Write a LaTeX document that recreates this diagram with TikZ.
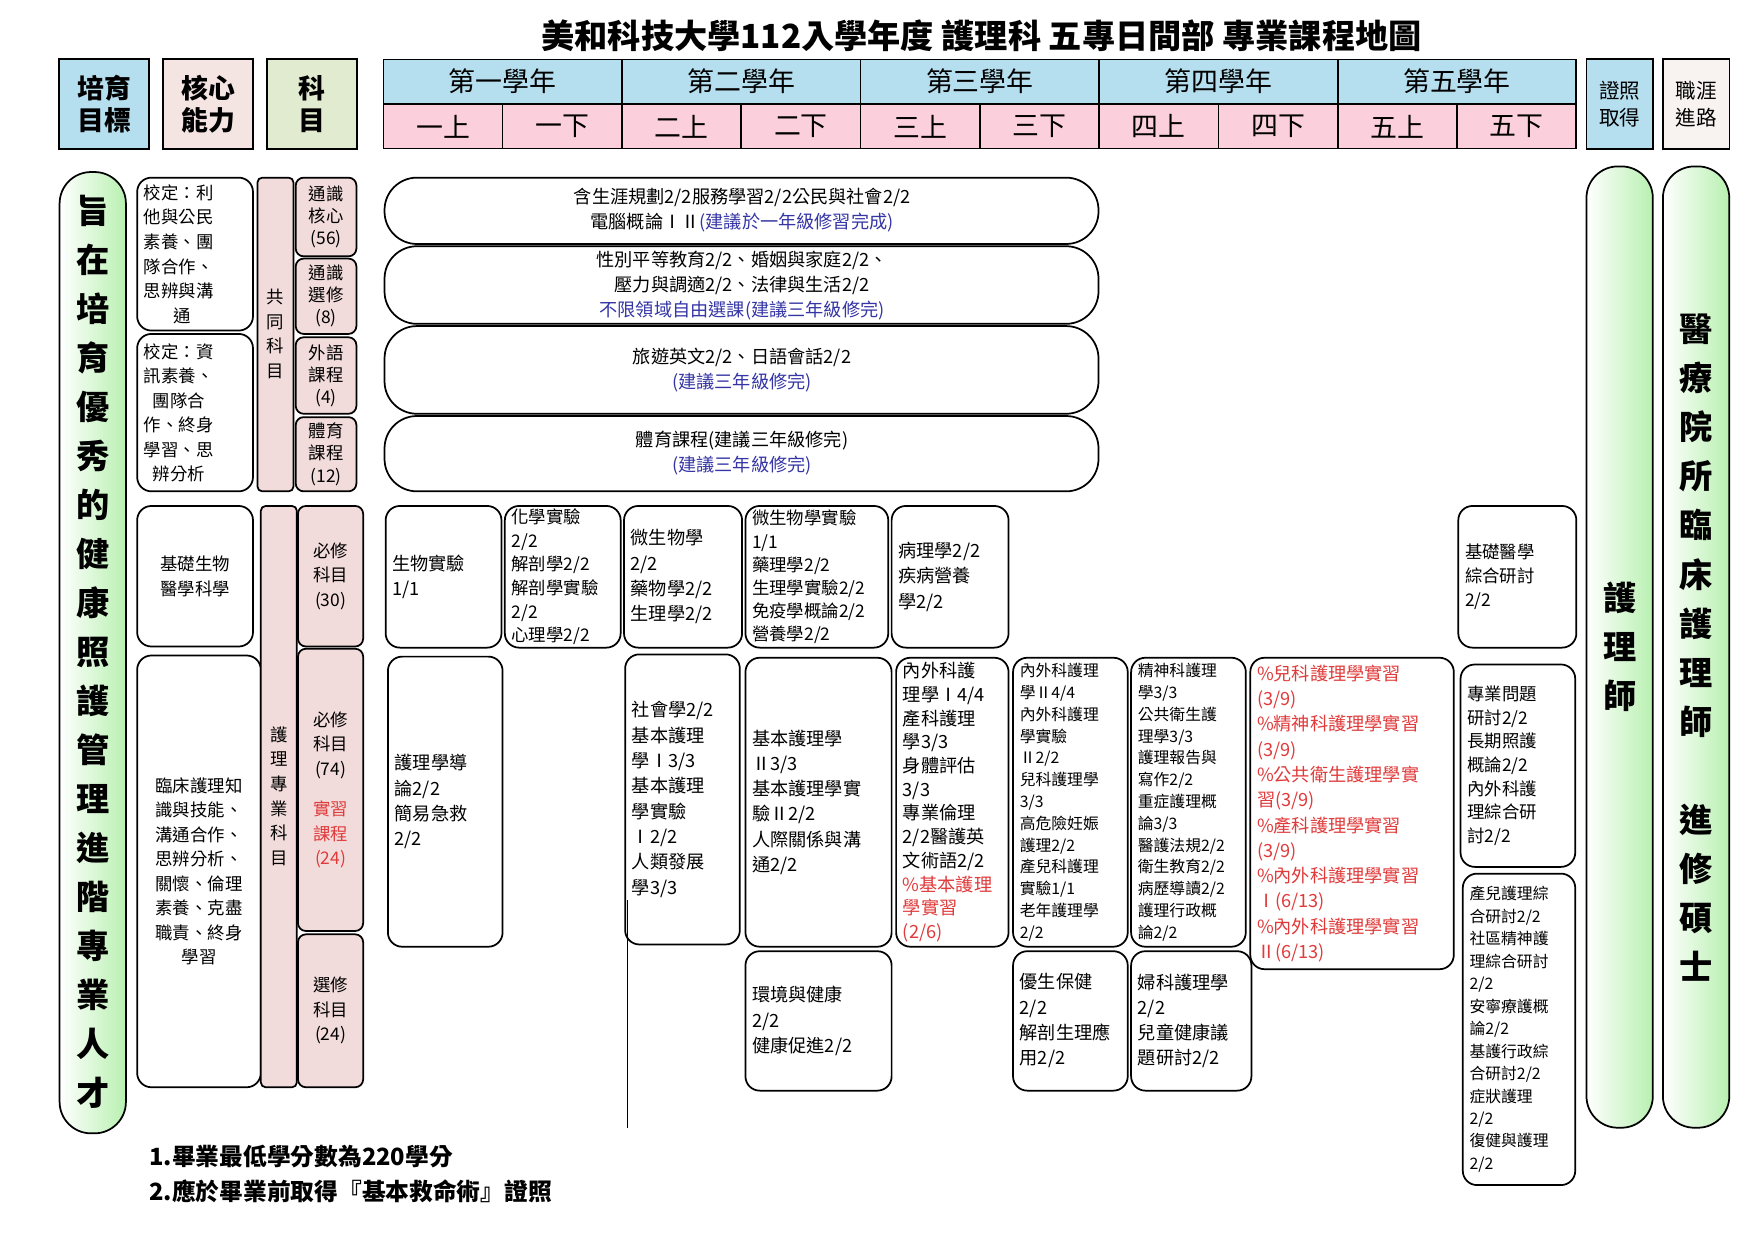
\documentclass[tikz,border=0pt]{standalone}
\usepackage{fontspec}
\setmainfont{Noto Sans CJK TC}
\usetikzlibrary{positioning}
\definecolor{hdrblue}{HTML}{B5DEEE}
\definecolor{hdrpink}{HTML}{FCCFDD}
\definecolor{corepink}{HTML}{F4E5E3}
\definecolor{subjgreen}{HTML}{E1EBD0}
\definecolor{catpink}{HTML}{F2DCDB}
\definecolor{careerwhite}{HTML}{F8F3F0}
\definecolor{pillgreen}{HTML}{B8F0B0}
\definecolor{notered}{HTML}{E03A3A}
\definecolor{noteblue}{HTML}{3535A5}
\tikzset{
  hdr/.style={draw, line width=1pt, font=\bfseries\fontsize{17}{20}\selectfont, align=center},
  cbox/.style={draw, line width=1.1pt, rounded corners=9pt},
  txt/.style={align=left, inner sep=0pt, font=\fontsize{11.5}{16}\selectfont},
  small/.style={font=\fontsize{10}{13.8}\selectfont},
  pill/.style={draw, line width=1.1pt, rounded corners=0.72cm},
  pillar/.style={draw, line width=1.1pt, rounded corners=0.7cm, left color=white, right color=pillgreen},
  vert/.style={align=center, inner sep=0pt, font=\bfseries\fontsize{21}{31}\selectfont}
}
% box with its text: name, x1, y1, x2, y2, options, text
\newcommand\course[7]{%
  \draw[cbox] (#2,#3) rectangle (#4,#5);
  \pgfmathsetmacro\tw{(#4-#2-12)*0.025}
  \node[txt, text width=\tw cm, #6] (#1) at ({(#2+#4)/2},{(#3+#5)/2}) {#7};}
\begin{document}
\begin{tikzpicture}[x=0.025cm, y=-0.025cm]
\useasboundingbox (0,0) rectangle (1560,1103);

% title
\node[font=\bfseries\fontsize{21}{24}\selectfont] (title) at (873,32) {美和科技大學112入學年度 護理科 五專日間部 專業課程地圖};

% header
\node[hdr, fill=hdrblue, minimum width=2cm, minimum height=2cm] (goal) at (92.5,92.5) {培育\\目標};
\node[hdr, fill=corepink, minimum width=2cm, minimum height=2cm] (core) at (185,92.5) {核心\\能力};
\node[hdr, fill=subjgreen, minimum width=2cm, minimum height=2cm] (subj) at (277.5,92.5) {科\\目};
\foreach \yr [count=\i from 0] in {第一學年,第二學年,第三學年,第四學年,第五學年}
  \node[hdr, fill=hdrblue, font=\fontsize{17}{18}\selectfont, minimum width=5.3cm, minimum height=0.98cm] (yr\i) at (447+212.2*\i,72.5) {\yr};
\foreach \sem [count=\i from 0] in {一上,一下,二上,二下,三上,三下,四上,四下,五上,五下}
  \node[hdr, fill=hdrpink, font=\fontsize{17}{18}\selectfont, minimum width=2.65cm, minimum height=0.98cm] (sem\i) at (394+106.1*\i,112.5) {\sem};
\node[hdr, fill=hdrblue, font=\fontsize{13}{17}\selectfont, minimum width=1.48cm, minimum height=2cm] (cert) at (1440.5,92.5) {證照\\取得};
\node[hdr, fill=careerwhite, font=\fontsize{13}{17}\selectfont, minimum width=1.48cm, minimum height=2cm] (career) at (1508.5,92.5) {職涯\\進路};

% left column: goal
\draw[pillar] (53,153) rectangle (112,1008);
\node[vert] (goaltext) at (82.5,580) {旨\\在\\培\\育\\優\\秀\\的\\健\\康\\照\\護\\管\\理\\進\\階\\專\\業\\人\\才};

% core abilities
\course{core1}{122}{158}{225}{294}{font=\fontsize{11}{15.5}\selectfont}{校定：利\\他與公民\\素養、團\\隊合作、\\思辨與溝\\\hspace*{1.7em}通}
\course{core2}{122}{297}{225}{437}{font=\fontsize{11}{15.5}\selectfont}{校定：資\\訊素養、\\\hspace*{0.5em}團隊合\\作、終身\\學習、思\\\hspace*{0.5em}辨分析}
\course{core3}{122}{450}{225}{575}{align=center, font=\fontsize{11}{15.5}\selectfont}{基礎生物\\醫學科學}
\course{core4}{122}{583}{232}{967}{align=center, font=\fontsize{11}{15.5}\selectfont}{臨床護理知\\識與技能、\\溝通合作、\\思辨分析、\\關懷、倫理\\素養、克盡\\職責、終身\\學習}

% subject categories
\draw[cbox, rounded corners=3pt, fill=catpink] (229,158) rectangle (261,437);
\node[txt, align=center, font=\fontsize{11}{15.5}\selectfont] (common) at (245,297) {共\\同\\科\\目};
\draw[cbox, rounded corners=3pt, fill=catpink] (232,450) rectangle (264,967);
\node[txt, align=center, font=\fontsize{11}{15.5}\selectfont] (nursing) at (248,708) {護\\理\\專\\業\\科\\目};
\foreach \name/\ya/\yb/\lbl in {gecore/158/228/{通識\\核心\\(56)}, geelec/230/297/{通識\\選修\\(8)}, lang/300/368/{外語\\課程\\(4)}, pe/371/437/{體育\\課程\\(12)}}{
  \draw[cbox, rounded corners=5pt, fill=catpink] (263,\ya) rectangle (317,\yb);
  \node[txt, align=center, font=\fontsize{11}{14}\selectfont] (\name) at (290,{(\ya+\yb)/2}) {\lbl};
}
\foreach \name/\ya/\yb/\lbl in {req30/450/575/{必修\\科目\\(30)}, req74/577/828/{必修\\科目\\(74)\\[10pt]\textcolor{notered}{實習}\\\textcolor{notered}{課程}\\\textcolor{notered}{(24)}}, elec/831/967/{選修\\科目\\(24)}}{
  \draw[cbox, rounded corners=5pt, fill=catpink] (265,\ya) rectangle (323,\yb);
  \node[txt, align=center, font=\fontsize{11}{15.5}\selectfont] (\name) at (294,{(\ya+\yb)/2}) {\lbl};
}

% general education pills
\draw[pill] (342,158) rectangle (977,217);
\node[txt, align=center] (ge1) at (660,187) {含生涯規劃2/2服務學習2/2公民與社會2/2\\電腦概論ⅠⅡ\textcolor{noteblue}{(建議於一年級修習完成)}};
\draw[pill] (342,219) rectangle (977,288);
\node[txt, align=center] (ge2) at (660,254) {性別平等教育2/2、婚姻與家庭2/2、\\壓力與調適2/2、法律與生活2/2\\\textcolor{noteblue}{不限領域自由選課(建議三年級修完)}};
\draw[pill] (342,290) rectangle (977,368);
\node[txt, align=center] (ge3) at (660,329) {旅遊英文2/2、日語會話2/2\\\textcolor{noteblue}{(建議三年級修完)}};
\draw[pill] (342,370) rectangle (977,437);
\node[txt, align=center] (ge4) at (660,403) {體育課程(建議三年級修完)\\\textcolor{noteblue}{(建議三年級修完)}};

% basic science courses
\course{bio}{343}{450}{446}{576}{}{生物實驗\\1/1}
\course{chem}{449}{450}{552}{576}{font=\fontsize{11}{15}\selectfont}{化學實驗\\2/2\\解剖學2/2\\解剖學實驗\\2/2\\心理學2/2}
\course{micro}{555}{450}{660}{576}{}{微生物學\\2/2\\藥物學2/2\\生理學2/2}
\course{microlab}{663}{450}{790}{576}{font=\fontsize{11}{14.6}\selectfont}{微生物學實驗\\1/1\\藥理學2/2\\生理學實驗2/2\\免疫學概論2/2\\營養學2/2}
\course{patho}{793}{450}{897}{576}{}{病理學2/2\\疾病營養\\學2/2}
\course{biomed}{1297}{450}{1402}{576}{font=\fontsize{11}{15}\selectfont}{基礎醫學\\綜合研討\\2/2}

% nursing courses
\course{intro}{345}{584}{447}{842}{}{護理學導\\論2/2\\簡易急救\\2/2}
\course{socio}{556}{582}{658}{840}{}{社會學2/2\\基本護理\\學Ⅰ3/3\\基本護理\\學實驗\\Ⅰ2/2\\人類發展\\學3/3}
\course{basic2}{663}{585}{793}{842}{}{基本護理學\\Ⅱ3/3\\基本護理學實\\驗Ⅱ2/2\\人際關係與溝\\通2/2}
\course{med1}{797}{585}{897}{842}{font=\fontsize{11.5}{15}\selectfont}{內外科護\\理學Ⅰ4/4\\產科護理\\學3/3\\身體評估\\3/3\\專業倫理\\2/2醫護英\\文術語2/2\\\textcolor{notered}{\%基本護理}\\\textcolor{notered}{學實習}\\\textcolor{notered}{(2/6)}}
\course{med2}{901}{585}{1003}{842}{small}{內外科護理\\學Ⅱ4/4\\內外科護理\\學實驗\\Ⅱ2/2\\兒科護理學\\3/3\\高危險妊娠\\護理2/2\\產兒科護理\\實驗1/1\\老年護理學\\2/2}
\course{psych}{1006}{585}{1108}{842}{small}{精神科護理\\學3/3\\公共衛生護\\理學3/3\\護理報告與\\寫作2/2\\重症護理概\\論3/3\\醫護法規2/2\\衛生教育2/2\\病歷導讀2/2\\護理行政概\\論2/2}
\course{practice}{1112}{585}{1293}{862}{text=notered, font=\fontsize{11.5}{16}\selectfont}{\%兒科護理學實習\\(3/9)\\\%精神科護理學實習\\(3/9)\\\%公共衛生護理學實\\習(3/9)\\\%產科護理學實習\\(3/9)\\\%內外科護理學實習\\Ⅰ(6/13)\\\%內外科護理學實習\\Ⅱ(6/13)}
\course{topics}{1299}{591}{1401}{771}{font=\fontsize{11}{15}\selectfont}{專業問題\\研討2/2\\長期照護\\概論2/2\\內外科護\\理綜合研\\討2/2}
\course{obped}{1301}{777}{1401}{1054}{font=\fontsize{10}{14.2}\selectfont}{產兒護理綜\\合研討2/2\\社區精神護\\理綜合研討\\2/2\\安寧療護概\\論2/2\\基護行政綜\\合研討2/2\\症狀護理\\2/2\\復健與護理\\2/2}
\course{env}{663}{846}{793}{970}{}{環境與健康\\2/2\\健康促進2/2}
\course{eugen}{901}{846}{1003}{970}{}{優生保健\\2/2\\解剖生理應\\用2/2}
\course{gyn}{1006}{846}{1113}{970}{}{婦科護理學\\2/2\\兒童健康議\\題研討2/2}
\coordinate (lineend) at (558,1003);
\draw[line width=1pt] (socio.south -| lineend) ++(0,2) coordinate (linestart) -- (lineend);

% career pillars
\draw[pillar] (1411,148) rectangle (1470,1003);
\node[vert] (nurse) at (1440.5,575) {護\\理\\師};
\draw[pillar] (1479,148) rectangle (1538,1003);
\node[vert] (path) at (1508.5,576) {醫\\療\\院\\所\\臨\\床\\護\\理\\師\\ \\進\\修\\碩\\士};

% notes
\node[anchor=west, align=left, font=\bfseries\fontsize{15}{22.5}\selectfont] (notes) at (128,1044) {1.畢業最低學分數為220學分\\2.應於畢業前取得『基本救命術』證照};
\end{tikzpicture}
\end{document}
